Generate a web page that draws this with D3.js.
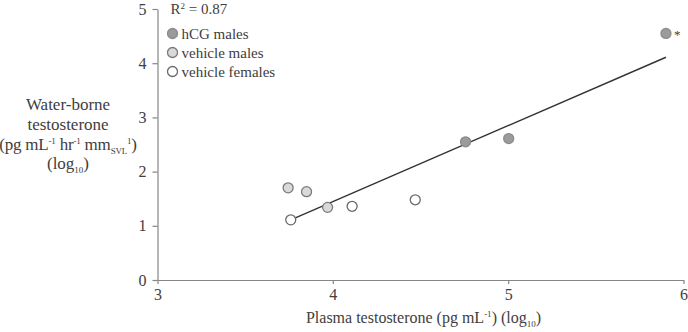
<!DOCTYPE html>
<html>
<head>
<meta charset="utf-8">
<script src="https://cdn.jsdelivr.net/npm/d3@7"></script>
<style>
  body { margin: 0; background: #fff; }
  svg text { font-family: "Liberation Serif", "DejaVu Serif", serif; fill: #404040; }
</style>
</head>
<body>
<div id="chart"></div>
<script>
// data (log10 values)
let groups = ["hCG males", "vehicle males", "vehicle females"];
let hcgX = [4.757, 5.003, 5.90];
let hcgY = [2.55, 2.61, 4.55];
let vehMaleX = [3.745, 3.85, 3.97];
let vehMaleY = [1.70, 1.63, 1.34];
let vehFemaleX = [3.76, 4.11, 4.47];
let vehFemaleY = [1.11, 1.36, 1.48];
let fitX = [3.76, 5.90];
let fitY = [1.11, 4.11];
let xTicks = [3, 4, 5, 6];
let yTicks = [0, 1, 2, 3, 4, 5];

let fills = {"hCG males": "#9b9b9b", "vehicle males": "#d9d9d9", "vehicle females": "#ffffff"};
let strokes = {"hCG males": "#8c8c8c", "vehicle males": "#7a7a7a", "vehicle females": "#6a6a6a"};

let points = [];
hcgX.forEach((x, i) => points.push({g: "hCG males", x: x, y: hcgY[i]}));
vehMaleX.forEach((x, i) => points.push({g: "vehicle males", x: x, y: vehMaleY[i]}));
vehFemaleX.forEach((x, i) => points.push({g: "vehicle females", x: x, y: vehFemaleY[i]}));

let W = 688, H = 332;
let margin = {top: 9, right: 4.5, bottom: 52, left: 157.5},
    width = W - margin.left - margin.right,
    height = H - margin.top - margin.bottom;

let svg = d3.select("#chart").append("svg")
    .attr("width", W)
    .attr("height", H)
    .append("g")
    .attr("transform", "translate(" + margin.left + "," + margin.top + ")");

let x = d3.scaleLinear().domain([3, 6]).range([0, width]);
let y = d3.scaleLinear().domain([0, 5]).range([height, 0]);

// AXES
let xAxisGroup = svg.append("g")
    .attr("class", "x-axis axis")
    .attr("transform", "translate(0," + height + ")")
    .call(d3.axisBottom(x).tickValues(xTicks).tickFormat(d3.format("d"))
        .tickSize(4).tickSizeOuter(0).tickPadding(5));

let yAxisGroup = svg.append("g")
    .attr("class", "y-axis axis")
    .call(d3.axisLeft(y).tickValues(yTicks).tickFormat(d3.format("d"))
        .tickSize(5).tickSizeOuter(0).tickPadding(6));

svg.selectAll(".axis text")
    .style("font-size", "16px")
    .style("font-family", "Liberation Serif, serif")
    .attr("fill", "#4a4a4a");
svg.selectAll(".axis path, .axis line").attr("stroke", "#868686").attr("stroke-width", 1.2);

// regression line
svg.append("line")
    .attr("x1", x(fitX[0])).attr("y1", y(fitY[0]))
    .attr("x2", x(fitX[1])).attr("y2", y(fitY[1]))
    .attr("stroke", "#333")
    .attr("stroke-width", 1.4);

// points
svg.selectAll(".dot")
    .data(points)
    .enter()
    .append("circle")
    .attr("class", "dot")
    .attr("cx", d => x(d.x))
    .attr("cy", d => y(d.y))
    .attr("r", 5)
    .attr("fill", d => fills[d.g])
    .attr("stroke", d => strokes[d.g])
    .attr("stroke-width", 1.3);

// asterisk on the top point
svg.append("text")
    .attr("x", x(hcgX[2]) + 8)
    .attr("y", y(hcgY[2]) + 6)
    .style("font-size", "13px")
    .text("*");

// R squared
let r2 = svg.append("text")
    .attr("x", 13)
    .attr("y", 5)
    .style("font-size", "15px");
r2.append("tspan").text("R");
r2.append("tspan").attr("dy", -5).style("font-size", "9px").text("2");
r2.append("tspan").attr("dy", 5).text(" = 0.87");

// legend
let legend = svg.selectAll(".legend")
    .data(groups)
    .enter()
    .append("g")
    .attr("class", "legend")
    .attr("transform", (d, i) => "translate(15," + (24.5 + i * 19) + ")");

legend.append("circle")
    .attr("r", 5)
    .attr("fill", d => fills[d])
    .attr("stroke", d => strokes[d])
    .attr("stroke-width", 1.3);

legend.append("text")
    .attr("x", 9)
    .attr("y", 5)
    .style("font-size", "15px")
    .text(d => d);

// x title
let xt = svg.append("text")
    .attr("x", width / 2 + 3)
    .attr("y", height + 43)
    .attr("text-anchor", "middle")
    .style("font-size", "16px");
xt.append("tspan").text("Plasma testosterone (pg mL");
xt.append("tspan").attr("dy", -6).style("font-size", "9px").text("-1");
xt.append("tspan").attr("dy", 6).text(") (log");
xt.append("tspan").attr("dy", 4).style("font-size", "9px").text("10");
xt.append("tspan").attr("dy", -4).text(")");

// y title (horizontal, left of axis)
let yt = svg.append("g").attr("transform", "translate(" + (68 - margin.left) + ",0)");
let ylines = [110, 129.5, 150, 169];
yt.append("text").attr("y", ylines[0] - margin.top).attr("text-anchor", "middle")
    .style("font-size", "17px").text("Water-borne");
yt.append("text").attr("y", ylines[1] - margin.top).attr("text-anchor", "middle")
    .style("font-size", "17px").text("testosterone");
let l3 = yt.append("text").attr("y", ylines[2] - margin.top).attr("text-anchor", "middle")
    .style("font-size", "17px").attr("letter-spacing", "-0.2");
l3.append("tspan").text("(pg mL");
l3.append("tspan").attr("dy", -6).style("font-size", "9px").text("-1");
l3.append("tspan").attr("dy", 6).text(" hr");
l3.append("tspan").attr("dy", -6).style("font-size", "9px").text("-1");
l3.append("tspan").attr("dy", 6).text(" mm");
l3.append("tspan").attr("dy", 4).style("font-size", "9px").text("SVL");
l3.append("tspan").attr("dy", -10).style("font-size", "9px").text("1");
l3.append("tspan").attr("dy", 6).text(")");
let l4 = yt.append("text").attr("y", ylines[3] - margin.top).attr("text-anchor", "middle")
    .style("font-size", "17px");
l4.append("tspan").text("(log");
l4.append("tspan").attr("dy", 4).style("font-size", "9px").text("10");
l4.append("tspan").attr("dy", -4).text(")");
</script>
</body>
</html>
